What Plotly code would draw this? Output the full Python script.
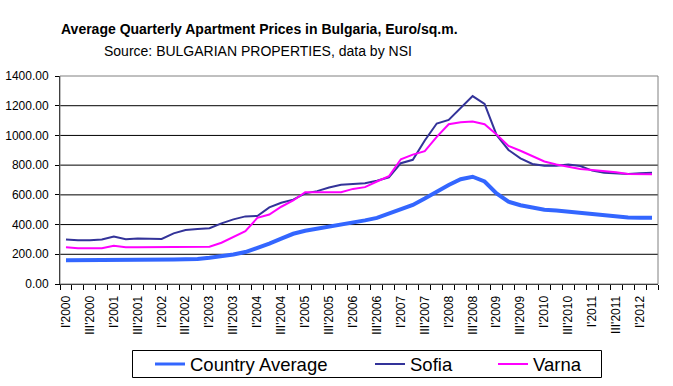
import plotly.graph_objects as go

years = list(range(2000, 2013))
roman = ["I", "II", "III", "IV"]
quarters = [f"{r}'{y}" for y in years for r in roman][:50]
tick_labels = [q if i % 2 == 0 else "" for i, q in enumerate(quarters)]

country_avg = [160, 160, 166, 162, 166, 162, 166, 163, 163, 165, 167, 168, 176, 184, 198, 215, 240, 272, 305, 338,
               358, 372, 385, 396, 412, 428, 445, 472, 505, 532, 575, 622, 666, 705, 722, 690, 610, 554, 530, 515,
               500, 494, 487, 478, 469, 460, 453, 447, 446, 446]
sofia = [300, 294, 294, 300, 319, 301, 307, 303, 303, 341, 363, 370, 375, 408, 435, 455, 458, 516, 547, 568,
         610, 625, 650, 668, 675, 678, 695, 718, 813, 836, 966, 1080, 1104, 1183, 1265, 1212, 1003, 902, 846, 808,
         796, 796, 805, 794, 763, 749, 745, 740, 745, 749]
varna = [247, 240, 240, 240, 258, 247, 247, 247, 249, 251, 251, 251, 251, 278, 315, 355, 445, 468, 520, 562,
         618, 618, 615, 618, 640, 652, 690, 725, 840, 871, 894, 990, 1075, 1088, 1093, 1075, 1007, 929, 897, 862,
         825, 805, 790, 774, 767, 761, 752, 740, 738, 738]

series_names = ["Country Average", "Sofia", "Varna"]
series_colors = ["#3366FF", "#333399", "#FF00FF"]
series_widths = [4, 2, 2]
series_values = [country_avg, sofia, varna]

FONT = "Arial, 'Liberation Sans', sans-serif"

# plot area in pixels: x 60..658, y 76..284
PL, PR, PT, PB = 60, 658, 76, 284
W, H = PR - PL, PB - PT


def px(x):
    return (x - PL) / W


def py(y):
    return (PB - y) / H


fig = go.Figure()
for name, vals, col, wd in zip(series_names, series_values, series_colors, series_widths):
    fig.add_trace(go.Scatter(x=quarters, y=vals, mode="lines", name=name,
                             line=dict(color=col, width=wd), showlegend=False))

shapes = []
for v in range(200, 1400, 200):
    shapes.append(dict(type="line", xref="paper", yref="y", x0=0, x1=1, y0=v, y1=v,
                       line=dict(color="black", width=1), layer="below"))
shapes.append(dict(type="rect", xref="paper", yref="paper", x0=0, x1=1, y0=0, y1=1,
                   line=dict(color="#808080", width=1), layer="above"))

# manual legend (box, line samples, labels)
shapes.append(dict(type="rect", xref="paper", yref="paper", x0=px(132.5), x1=px(601.5),
                   y0=py(350.5), y1=py(377.5), line=dict(color="black", width=1), fillcolor="white"))
annotations = [
    dict(text="<b>Average Quarterly Apartment Prices in Bulgaria, Euro/sq.m.</b>",
         xref="paper", yref="paper", x=px(259), y=py(29),
         xanchor="center", yanchor="middle", showarrow=False, font=dict(size=14, family=FONT)),
    dict(text="Source: BULGARIAN PROPERTIES, data by NSI",
         xref="paper", yref="paper", x=px(258), y=py(51),
         xanchor="center", yanchor="middle", showarrow=False, font=dict(size=14, family=FONT)),
]
leg_line_x = [155, 375, 498]
for name, col, wd, lx in zip(series_names, series_colors, series_widths, leg_line_x):
    shapes.append(dict(type="line", xref="paper", yref="paper", x0=px(lx), x1=px(lx + 30),
                       y0=py(364), y1=py(364), line=dict(color=col, width=wd - 1 if wd > 2 else wd)))
    annotations.append(dict(text=name, xref="paper", yref="paper", x=px(lx + 33), y=py(364),
                            xanchor="left", yanchor="middle", showarrow=False,
                            font=dict(size=18.5, family=FONT)))

fig.update_layout(
    width=673, height=386,
    margin=dict(l=PL, r=673 - PR, t=PT, b=386 - PB, autoexpand=False),
    paper_bgcolor="white", plot_bgcolor="white",
    font=dict(family=FONT, color="black", size=12),
    showlegend=False,
    shapes=shapes,
    annotations=annotations,
)
fig.update_xaxes(type="category", tickmode="array", tickvals=quarters, ticktext=tick_labels,
                 tickangle=-90, tickson="boundaries", ticks="outside", ticklen=5, tickcolor="black",
                 showline=True, linecolor="black", linewidth=1, showgrid=False, automargin=False,
                 ticklabelstandoff=6, tickfont=dict(size=12, family=FONT), range=[-0.5, 49.5])
fig.update_yaxes(range=[0, 1400], dtick=200, tickformat=".2f", ticks="outside", ticklen=4,
                 tickcolor="black", showline=True, linecolor="black", linewidth=1, showgrid=False,
                 zeroline=False, automargin=False, ticklabelstandoff=4,
                 tickfont=dict(size=12, family=FONT))

fig.write_html("out.html", config={"displayModeBar": False},
               post_script="document.body.style.margin='0';document.body.style.overflow='hidden';")
